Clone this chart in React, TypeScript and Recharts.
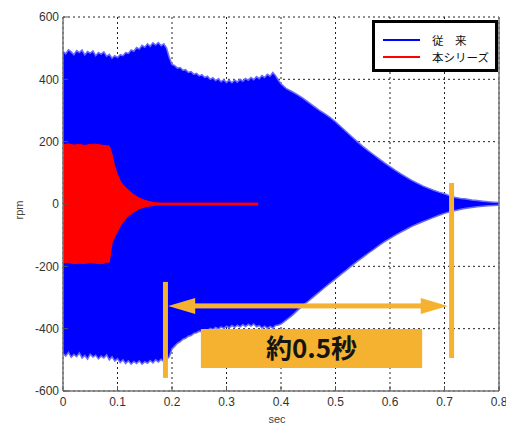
import {
  ComposedChart,
  Area,
  XAxis,
  YAxis,
  CartesianGrid,
  ReferenceLine,
  ReferenceArea,
  Legend,
} from "recharts";

// envelope of the oscillating speed signal
const TIME = [
  0, 0.005, 0.01, 0.015, 0.02, 0.025, 0.03, 0.035, 0.04, 0.045,
  0.05, 0.055, 0.06, 0.065, 0.07, 0.075, 0.08, 0.085, 0.09, 0.095,
  0.1, 0.105, 0.11, 0.115, 0.12, 0.125, 0.13, 0.135, 0.14, 0.145,
  0.15, 0.155, 0.16, 0.165, 0.17, 0.175, 0.18, 0.185, 0.19, 0.195,
  0.2, 0.205, 0.21, 0.215, 0.22, 0.225, 0.23, 0.235, 0.24, 0.245,
  0.25, 0.255, 0.26, 0.265, 0.27, 0.275, 0.28, 0.285, 0.29, 0.295,
  0.3, 0.305, 0.31, 0.315, 0.32, 0.325, 0.33, 0.335, 0.34, 0.345,
  0.35, 0.355, 0.36, 0.365, 0.37, 0.375, 0.38, 0.385, 0.39, 0.395,
  0.4, 0.41, 0.42, 0.43, 0.44, 0.45, 0.46, 0.47, 0.48, 0.49,
  0.5, 0.51, 0.52, 0.53, 0.54, 0.55, 0.56, 0.57, 0.58, 0.59,
  0.6, 0.61, 0.62, 0.63, 0.64, 0.65, 0.66, 0.67, 0.68, 0.69,
  0.7, 0.71, 0.72, 0.73, 0.74, 0.75, 0.76, 0.77, 0.78, 0.79,
  0.8,
];

const BLUE_HI = [
  490, 482, 495, 488, 479, 492, 486, 494, 478, 489,
  484, 491, 476, 486, 481, 488, 474, 480, 468, 476,
  470, 479, 476, 486, 483, 494, 490, 502, 497, 509,
  503, 514, 506, 517, 510, 518, 508, 514, 500, 470,
  448, 444, 436, 438, 429, 431, 422, 425, 416, 419,
  411, 415, 406, 410, 400, 405, 396, 402, 392, 399,
  390, 397, 389, 398, 391, 400, 394, 403, 397, 406,
  399, 409, 402, 412, 406, 416, 410, 422, 412, 398,
  386, 370, 361, 351, 340, 327, 314, 301, 290, 278,
  264, 248, 232, 216, 200, 185, 171, 158, 145, 132,
  120, 108, 97, 86, 76, 67, 58, 51, 44, 38,
  33, 26, 21, 18, 16, 13, 11, 9, 7, 6,
  5,
];

const BLUE_LO = [
  -480, -488, -476, -492, -483, -490, -478, -494, -486, -498,
  -482, -491, -485, -497, -488, -494, -484, -500, -490, -504,
  -496, -509, -500, -512, -503, -514, -505, -512, -503, -514,
  -506, -511, -502, -510, -500, -507, -498, -506, -500, -490,
  -465, -456, -447, -442, -434, -431, -424, -422, -415, -413,
  -408, -410, -403, -406, -399, -403, -396, -401, -394, -399,
  -392, -397, -390, -396, -389, -394, -387, -393, -386, -392,
  -385, -394, -390, -398, -392, -399, -393, -398, -390, -388,
  -385, -372, -358, -342, -326, -312, -297, -283, -268, -254,
  -240, -226, -212, -198, -184, -171, -158, -146, -133, -121,
  -110, -100, -90, -81, -72, -64, -57, -50, -43, -36,
  -30, -25, -21, -17, -14, -11, -9, -7, -6, -5,
  -4,
];

const RED_TIME = [
  0, 0.01, 0.02, 0.03, 0.04, 0.05, 0.06, 0.07, 0.08, 0.085,
  0.09, 0.095, 0.1, 0.105, 0.11, 0.12, 0.13, 0.14, 0.15, 0.16,
  0.17, 0.18, 0.2, 0.25, 0.3, 0.358,
];
const RED_HI = [
  190, 193, 189, 191, 188, 191, 192, 189, 187, 186,
  160, 120, 95, 75, 62, 45, 30, 19, 12, 7,
  4, 3, 3, 3, 3, 3,
];
const RED_LO = [
  -189, -187, -192, -190, -191, -188, -190, -192, -188, -186,
  -125, -105, -88, -72, -58, -38, -26, -15, -10, -6,
  -4, -3, -3, -3, -3, -3,
];

const X_TICKS = [0, 0.1, 0.2, 0.3, 0.4, 0.5, 0.6, 0.7, 0.8];
const Y_TICKS = [-600, -400, -200, 0, 200, 400, 600];

const BLUE = "#0000ff";
const RED = "#ff0000";
const ORANGE = "#f5b230";
const LEGEND_COLORS: Record<string, string> = {
  "従　来": BLUE,
  "本シリーズ": RED,
};

type Row = { t: number; blue?: number[]; red?: number[] };

function buildRows(): Row[] {
  const rows = new Map<string, Row>();
  TIME.forEach((t, i) => {
    rows.set(t.toFixed(3), { t, blue: [BLUE_LO[i], BLUE_HI[i]] });
  });
  RED_TIME.forEach((t, i) => {
    const k = t.toFixed(3);
    const r = rows.get(k) ?? { t };
    r.red = [RED_LO[i], RED_HI[i]];
    rows.set(k, r);
  });
  return [...rows.values()].sort((a, b) => a.t - b.t);
}

const data = buildRows();

const tickStyle = {
  fontSize: 12,
  fill: "#333",
  fontFamily: '"Liberation Sans", Arial, sans-serif',
};

function ArrowShape(props: any) {
  const { x1, y1, x2 } = props;
  const head = 27;
  const half = 8;
  const left = Math.min(x1, x2);
  const right = Math.max(x1, x2);
  return (
    <g>
      <rect
        x={left + head - 2}
        y={y1 - 2.5}
        width={right - left - 2 * head + 4}
        height={5}
        fill={ORANGE}
      />
      <polygon
        points={`${left},${y1} ${left + head},${y1 - half} ${left + head},${y1 + half}`}
        fill={ORANGE}
      />
      <polygon
        points={`${right},${y1} ${right - head},${y1 - half} ${right - head},${y1 + half}`}
        fill={ORANGE}
      />
    </g>
  );
}

function renderLegend(props: any) {
  const payload = props.payload ?? [];
  return (
    <div
      style={{
        width: 126,
        height: 52,
        boxSizing: "border-box",
        border: "3px solid #000",
        background: "#fff",
        position: "relative",
      }}
    >
      {payload.map((entry: any, i: number) => (
        <div
          key={entry.value}
          style={{
            position: "absolute",
            left: 8,
            top: 10 + i * 17,
            height: 14,
            display: "flex",
            alignItems: "center",
            whiteSpace: "nowrap",
          }}
        >
          <span
            style={{
              display: "inline-block",
              width: 37,
              height: 2,
              background: LEGEND_COLORS[entry.value] ?? entry.color,
            }}
          />
          <span
            style={{
              marginLeft: 12,
              fontSize: 11.5,
              color: "#111",
              fontFamily: '"Noto Sans CJK JP", sans-serif',
            }}
          >
            {entry.value}
          </span>
        </div>
      ))}
    </div>
  );
}

const renderRpm = (props: any) => {
  const vb = props.viewBox;
  const cx = vb.x + 11;
  const cy = vb.y + vb.height / 2 + 6;
  return (
    <text
      x={cx}
      y={cy}
      transform={`rotate(-90 ${cx} ${cy})`}
      textAnchor="middle"
      dominantBaseline="central"
      fontSize={11}
      fill="#444"
      fontFamily='"Liberation Sans", Arial, sans-serif'
    >
      rpm
    </text>
  );
};

const renderSec = (props: any) => {
  const vb = props.viewBox;
  return (
    <text
      x={vb.x + vb.width / 2 - 4}
      y={vb.y + 32}
      textAnchor="middle"
      fontSize={11}
      fill="#444"
      fontFamily='"Liberation Sans", Arial, sans-serif'
    >
      sec
    </text>
  );
};

export default function App() {
  return (
    <ComposedChart
      width={506}
      height={418}
      data={data}
      margin={{ top: 9, right: 15, left: 0, bottom: 0 }}
      style={{ background: "#fff" }}
    >
      <CartesianGrid
        stroke="#222"
        strokeDasharray="2 3"
        strokeWidth={1}
      />
      <XAxis
        dataKey="t"
        type="number"
        domain={[0, 0.8]}
        ticks={X_TICKS}
        tickFormatter={(v: number) => String(v)}
        tick={tickStyle}
        tickSize={-5}
        tickMargin={11}
        tickLine={{ stroke: "#555" }}
        axisLine={{ stroke: "#777", strokeWidth: 1.5 }}
        height={35}
        allowDataOverflow
        label={renderSec}
      />
      <YAxis
        type="number"
        domain={[-600, 600]}
        ticks={Y_TICKS}
        tick={tickStyle}
        tickSize={-5}
        tickMargin={9}
        tickLine={{ stroke: "#555" }}
        axisLine={{ stroke: "#777", strokeWidth: 1.5 }}
        width={55}
        allowDataOverflow
        label={renderRpm}
      />
      <Area
        dataKey="blue"
        name="従　来"
        type="linear"
        stroke="#6b6bff"
        strokeWidth={1.5}
        fill={BLUE}
        fillOpacity={1}
        connectNulls
        dot={false}
        activeDot={false}
        isAnimationActive={false}
      />
      <Area
        dataKey="red"
        name="本シリーズ"
        type="linear"
        stroke={RED}
        strokeWidth={1}
        fill={RED}
        fillOpacity={1}
        connectNulls
        dot={false}
        activeDot={false}
        isAnimationActive={false}
      />
      <ReferenceLine x={0.8} stroke="#777" strokeWidth={1.5} />
      <ReferenceArea
        x1={0.253}
        x2={0.659}
        y1={-526}
        y2={-401}
        fill={ORANGE}
        fillOpacity={1}
        stroke="none"
        label={{
          value: "約0.5秒",
          position: "center",
          fill: "#151515",
          fontSize: 26,
          fontWeight: 700,
          fontFamily: '"Noto Sans CJK JP", sans-serif',
        }}
      />
      <ReferenceLine
        segment={[
          { x: 0.188, y: -250 },
          { x: 0.188, y: -558 },
        ]}
        stroke={ORANGE}
        strokeWidth={5}
      />
      <ReferenceLine
        segment={[
          { x: 0.713, y: 67 },
          { x: 0.713, y: -494 },
        ]}
        stroke={ORANGE}
        strokeWidth={5}
      />
      <ReferenceLine
        segment={[
          { x: 0.193, y: -327 },
          { x: 0.706, y: -327 },
        ]}
        shape={ArrowShape}
      />
      <Legend
        content={renderLegend}
        layout="vertical"
        align="center"
        verticalAlign="middle"
        wrapperStyle={{ left: 364, top: 12, width: 126, height: 52 }}
      />
    </ComposedChart>
  );
}
